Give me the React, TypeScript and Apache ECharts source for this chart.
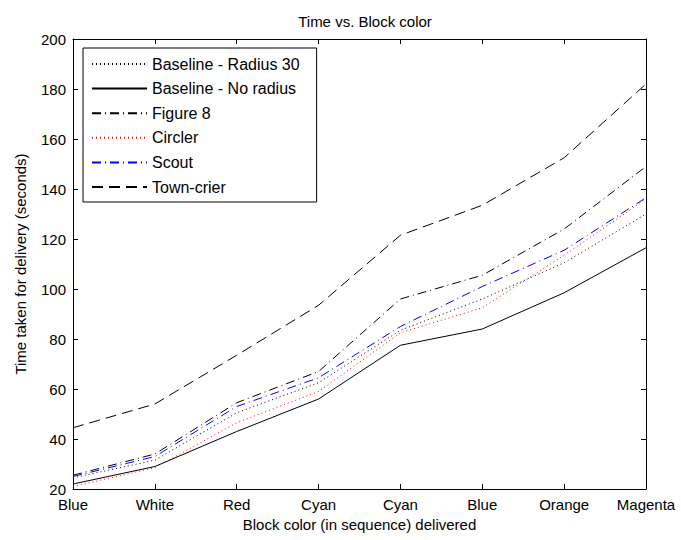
import React, { useEffect, useRef } from "react";
import * as echarts from "echarts";

const categories = ["Blue", "White", "Red", "Cyan", "Cyan", "Blue", "Orange", "Magenta"];
const seriesNames = [
  "Baseline - Radius 30",
  "Baseline - No radius",
  "Figure 8",
  "Circler",
  "Scout",
  "Town-crier",
];
const baselineR30 = [24.5, 31.5, 50.5, 62.5, 83.5, 96, 110.5, 130];
const baselineNoRadius = [22, 29, 43, 56, 77.5, 84, 98.5, 116.5];
const figure8 = [25.5, 34, 54.5, 67, 96, 105.5, 124, 149];
const circler = [21, 28.5, 46.5, 59, 82.5, 92.5, 113.5, 136];
const scout = [25, 33, 53, 64.5, 85, 101, 115.5, 136.5];
const townCrier = [44.5, 54, 73.5, 93.5, 121.5, 133.5, 152.5, 182];
const yTicks = { min: 20, max: 200, interval: 20 };

const FONT = "'Liberation Sans', Arial, Helvetica, sans-serif";

export default function App() {
  const ref = useRef<HTMLDivElement>(null);
  useEffect(() => {
    if (!ref.current) return;
    const chart = echarts.init(ref.current, undefined, { renderer: "svg" });
    const values = [baselineR30, baselineNoRadius, figure8, circler, scout, townCrier];
    const colors = ["#000000", "#000000", "#000000", "#ff0000", "#0000ff", "#000000"];
    const dashes: any[] = [[1, 3], "solid", [9, 4, 1, 4], [1, 3], [9, 4, 1, 4], [11, 6]];
    const axisCommon = {
      axisLine: { show: true, lineStyle: { color: "#000", width: 1 } },
      axisTick: { show: true, inside: true, length: 5, lineStyle: { color: "#000" } },
      splitLine: { show: false },
    };
    chart.setOption({
      animation: false,
      backgroundColor: "#ffffff",
      textStyle: { fontFamily: FONT, color: "#000" },
      title: {
        text: "Time vs. Block color",
        left: 360,
        textAlign: "center",
        top: 9,
        textStyle: { fontFamily: FONT, fontSize: 15, fontWeight: "normal", color: "#000" },
      },
      grid: { left: 73, right: 35, top: 39, bottom: 51, containLabel: false },
      legend: {
        orient: "vertical",
        left: 83,
        top: 48,
        padding: [8, 17, 7, 8],
        itemWidth: 55,
        itemHeight: 14,
        itemGap: 8.6,
        borderColor: "#000",
        borderWidth: 1,
        backgroundColor: "#fff",
        data: seriesNames,
        itemStyle: { opacity: 0 },
        textStyle: { fontFamily: FONT, fontSize: 16, color: "#000" },
      },
      xAxis: [
        {
          type: "category",
          data: categories,
          boundaryGap: false,
          position: "bottom",
          name: "Block color (in sequence) delivered",
          nameLocation: "middle",
          nameGap: 27,
          nameTextStyle: { fontFamily: FONT, fontSize: 15, color: "#000" },
          axisLabel: { fontFamily: FONT, fontSize: 15, color: "#000", margin: 8 },
          ...axisCommon,
        },
        {
          type: "category",
          data: categories,
          boundaryGap: false,
          position: "top",
          axisLabel: { show: false },
          ...axisCommon,
        },
      ],
      yAxis: [
        {
          type: "value",
          min: yTicks.min,
          max: yTicks.max,
          interval: yTicks.interval,
          position: "left",
          name: "Time taken for delivery (seconds)",
          nameLocation: "middle",
          nameGap: 45,
          nameTextStyle: { fontFamily: FONT, fontSize: 15, color: "#000" },
          axisLabel: { fontFamily: FONT, fontSize: 15, color: "#000", margin: 7 },
          ...axisCommon,
        },
        {
          type: "value",
          min: yTicks.min,
          max: yTicks.max,
          interval: yTicks.interval,
          position: "right",
          axisLabel: { show: false },
          ...axisCommon,
        },
      ],
      series: seriesNames.map((name, i) => ({
        name,
        type: "line",
        data: values[i],
        xAxisIndex: 0,
        yAxisIndex: 0,
        symbol: "none",
        showSymbol: false,
        itemStyle: { color: colors[i] },
        lineStyle: { color: colors[i], width: 1, type: dashes[i] },
      })),
    });
    return () => chart.dispose();
  }, []);
  return (
    <div
      ref={ref}
      style={{ position: "fixed", left: 0, top: 0, width: 681, height: 540, background: "#fff" }}
    />
  );
}
